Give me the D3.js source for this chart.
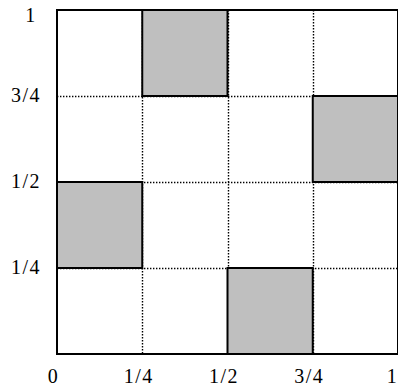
<!DOCTYPE html>
<html>
<head>
<meta charset="utf-8">
<style>
	body { margin: 0; background: #fff; }
	svg { display: block; }
	.tick text { font-family: "Liberation Serif", "DejaVu Serif", serif; font-size: 20px; fill: #000; letter-spacing: 1.5px; }
</style>
<script src="https://cdnjs.cloudflare.com/ajax/libs/d3/7.8.5/d3.min.js"></script>
</head>
<body>
<svg id="chart" width="398" height="387"></svg>
<script>
// tick positions and labels
let xTickValues = [0, 0.25, 0.5, 0.75, 1];
let xTickLabels = ["0", "1/4", "1/2", "3/4", "1"];
let yTickValues = [0.25, 0.5, 0.75, 1];
let yTickLabels = ["1/4", "1/2", "3/4", "1"];
let gridValues = [0.25, 0.5, 0.75];

// shaded squares: lower-left corners and side length
let squareX = [0.25, 0.75, 0, 0.5];
let squareY = [0.75, 0.5, 0.25, 0];
let squareSize = 0.25;

let plotLeft = 57, plotRight = 398, plotTop = 10, plotBottom = 354;

let x = d3.scaleLinear().domain([0, 1]).range([plotLeft, plotRight]);
let y = d3.scaleLinear().domain([0, 1]).range([plotBottom, plotTop]);

let svg = d3.select("#chart");

// dotted grid
let grid = svg.append("g")
	.attr("stroke", "#000")
	.attr("stroke-width", 1.4)
	.attr("stroke-dasharray", "1.4,1.6");

grid.selectAll(".vg").data(gridValues).join("line")
	.attr("x1", d => Math.round(x(d)) + 0.5).attr("x2", d => Math.round(x(d)) + 0.5)
	.attr("y1", plotTop).attr("y2", plotBottom);

grid.selectAll(".hg").data(gridValues).join("line")
	.attr("y1", d => Math.round(y(d)) + 0.5).attr("y2", d => Math.round(y(d)) + 0.5)
	.attr("x1", plotLeft).attr("x2", plotRight);

// gray squares
let squares = squareX.map((sx, i) => ({x: sx, y: squareY[i]}));
svg.append("g").selectAll("rect").data(squares).join("rect")
	.attr("x", d => x(d.x))
	.attr("y", d => y(d.y + squareSize))
	.attr("width", d => x(d.x + squareSize) - x(d.x))
	.attr("height", d => y(d.y) - y(d.y + squareSize))
	.attr("fill", "#bfbfbf")
	.attr("stroke", "#000")
	.attr("stroke-width", 2);

// frame
svg.append("rect")
	.attr("x", plotLeft).attr("y", plotTop)
	.attr("width", plotRight - plotLeft).attr("height", plotBottom - plotTop)
	.attr("fill", "none")
	.attr("stroke", "#000")
	.attr("stroke-width", 2);

// axes (labels only)
let xAxis = svg.append("g")
	.attr("transform", `translate(0,${plotBottom})`)
	.call(d3.axisBottom(x).tickValues(xTickValues).tickFormat((d, i) => xTickLabels[i]).tickSize(0));
xAxis.select(".domain").remove();
xAxis.selectAll("text")
	.attr("y", 29).attr("dy", null)
	.attr("dx", d => d == 1 ? -6 : -4);

let yAxis = svg.append("g")
	.attr("transform", `translate(${plotLeft},0)`)
	.call(d3.axisLeft(y).tickValues(yTickValues).tickFormat((d, i) => yTickLabels[i]).tickSize(0));
yAxis.select(".domain").remove();
yAxis.selectAll("text")
	.attr("text-anchor", "middle")
	.attr("x", d => d == 1 ? -26 : -31)
	.attr("dy", null)
	.attr("y", d => d == 1 ? 11 : 5);
</script>
</body>
</html>
